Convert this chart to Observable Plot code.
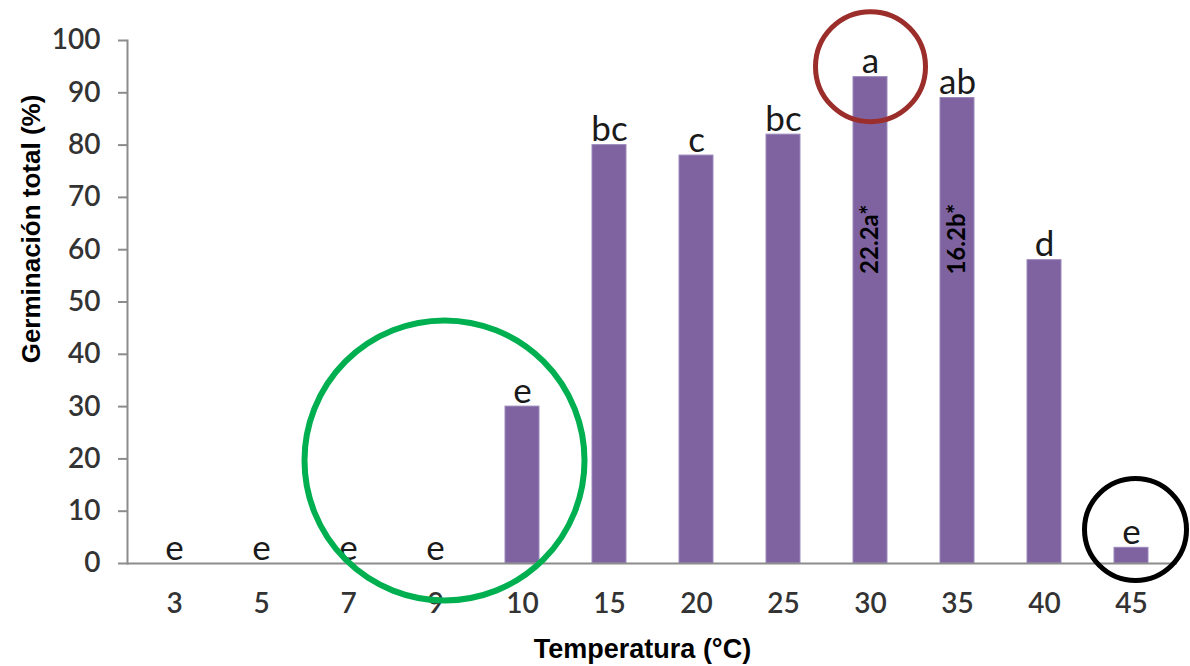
<!DOCTYPE html>
<html>
<head>
<meta charset="utf-8">
<script src="https://cdn.jsdelivr.net/npm/d3@7"></script>
<script src="https://cdn.jsdelivr.net/npm/@observablehq/plot@0.6"></script>
<style>
  html, body { margin: 0; padding: 0; background: white; }
  #chart svg { display: block; }
</style>
</head>
<body>
<div id="chart"></div>
<script>
// Data
const temps = ["3", "5", "7", "9", "10", "15", "20", "25", "30", "35", "40", "45"];
const germination = [0, 0, 0, 0, 30, 80, 78, 82, 93, 89, 58, 3];
const groups = ["e", "e", "e", "e", "e", "bc", "c", "bc", "a", "ab", "d", "e"];
const yTicks = [0, 10, 20, 30, 40, 50, 60, 70, 80, 90, 100];
const insideTemps = ["30", "35"];
const insideLabels = ["22.2a*", "16.2b*"];
const xTitle = "Temperatura (°C)";
const yTitle = "Germinación total (%)";

const data = temps.map((t, i) => ({temp: t, value: germination[i], group: groups[i]}));
const inside = insideTemps.map((t, i) => ({temp: t, label: insideLabels[i]}));

const chart = Plot.plot({
  width: 1190,
  height: 666,
  marginLeft: 127,
  marginRight: 13,
  marginTop: 40,
  marginBottom: 103,
  style: {fontFamily: "Lato, 'Open Sans', sans-serif", background: "white", overflow: "visible"},
  x: {domain: temps, paddingInner: 0.61, paddingOuter: 0.3, label: null},
  y: {domain: [0, 100], label: null},
  marks: [
    Plot.barY(data, {x: "temp", y: "value", fill: "#7f63a1", stroke: "#9c89bd", strokeWidth: 1}),
    Plot.ruleY([0], {stroke: "#8c8c8c", strokeWidth: 2}),
    Plot.frame({anchor: "left", stroke: "#8c8c8c", strokeWidth: 2}),
    Plot.axisY({ticks: yTicks, tickSize: 9, tickPadding: 18, fontSize: 28, fontWeight: 600, stroke: "#8c8c8c", strokeWidth: 2, fill: "#333", label: null}),
    Plot.axisX({tickSize: 0, tickPadding: 30, fontSize: 28, fontWeight: 600, fill: "#333", label: null}),
    Plot.text(data, {x: "temp", y: "value", text: "group", lineAnchor: "bottom", dy: -4, fontSize: 35, fill: "#1a1a1a"}),
    Plot.text(inside, {x: "temp", y: () => 62, text: "label", rotate: -90, fontSize: 24, fontWeight: "bold", fill: "black"}),
    Plot.text([xTitle], {frameAnchor: "bottom", textAnchor: "middle", dx: -10, dy: 94, lineAnchor: "bottom", fontSize: 27, fontWeight: "bold", fontFamily: "Liberation Sans", fill: "black"}),
    Plot.text([yTitle], {frameAnchor: "left", textAnchor: "middle", rotate: -90, dx: -88, dy: -73, lineAnchor: "bottom", fontSize: 26, fontWeight: "bold", fontFamily: "Liberation Sans", fill: "black"}),
    Plot.dot([{t: "30", v: 95}], {x: "t", y: "v", r: 55, stroke: "#9b2d2a", strokeWidth: 5, fill: "none"}),
    Plot.dot([{t: "9", v: 19.7}], {x: "t", y: "v", r: 140, dx: 9, stroke: "#00b050", strokeWidth: 6, fill: "none"}),
    Plot.dot([{t: "45", v: 6.5}], {x: "t", y: "v", r: 51, dx: 4, stroke: "black", strokeWidth: 5, fill: "none"})
  ]
});
document.getElementById("chart").appendChild(chart);
</script>
</body>
</html>
